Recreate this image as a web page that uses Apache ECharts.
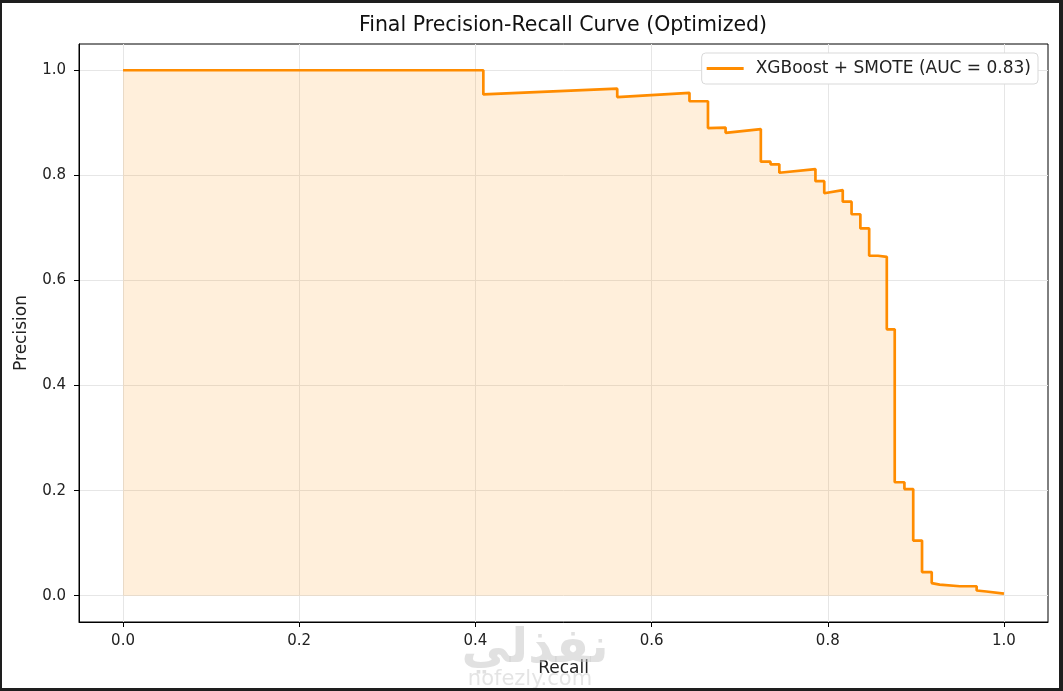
<!DOCTYPE html>
<html>
<head>
<meta charset="utf-8">
<script src="https://cdn.jsdelivr.net/npm/echarts@6/dist/echarts.min.js"></script>
<style>
html,body{margin:0;padding:0;background:#fff;}
#chart{width:1063px;height:691px;}
</style>
</head>
<body>
<div id="chart"></div>
<script>
// Data
const recall = [0, 0.409, 0.409, 0.561, 0.561, 0.643, 0.643, 0.664, 0.664, 0.684, 0.684, 0.724, 0.724, 0.735, 0.735, 0.745, 0.745, 0.786, 0.786, 0.796, 0.796, 0.817, 0.817, 0.827, 0.827, 0.837, 0.837, 0.847, 0.847, 0.857, 0.857, 0.867, 0.867, 0.876, 0.876, 0.887, 0.887, 0.897, 0.897, 0.907, 0.907, 0.918, 0.918, 0.927, 0.950, 0.969, 0.969, 0.980, 1.0];
const precision = [1.0, 1.0, 0.954, 0.965, 0.949, 0.957, 0.941, 0.941, 0.890, 0.891, 0.881, 0.888, 0.826, 0.826, 0.821, 0.821, 0.805, 0.812, 0.789, 0.789, 0.766, 0.772, 0.750, 0.750, 0.726, 0.726, 0.699, 0.699, 0.647, 0.647, 0.645, 0.645, 0.507, 0.507, 0.216, 0.216, 0.203, 0.203, 0.105, 0.105, 0.045, 0.045, 0.024, 0.021, 0.018, 0.018, 0.010, 0.008, 0.004];
const tickValues = [0, 0.2, 0.4, 0.6, 0.8, 1.0];
const seriesName = 'XGBoost + SMOTE (AUC = 0.83)';
const titleText = 'Final Precision-Recall Curve (Optimized)';

const points = recall.map((r, i) => [r, precision[i]]);
const FONT = '"DejaVu Sans", sans-serif';

const chart = echarts.init(document.getElementById('chart'), null, {renderer: 'canvas'});

function axisCommon() {
  return {
    type: 'value',
    min: -0.05,
    max: 1.05,
    axisLine: {show: true, onZero: false, lineStyle: {color: '#000', width: 1}},
    axisTick: {show: true, customValues: tickValues, length: 5, lineStyle: {color: '#000', width: 1}},
    axisLabel: {
      customValues: tickValues,
      formatter: v => Number(v).toFixed(1),
      color: '#222', fontSize: 15, fontFamily: FONT
    },
    splitLine: {show: true, lineStyle: {color: '#e6e6e6', width: 1}},
    nameTextStyle: {color: '#222', fontSize: 17, fontFamily: FONT}
  };
}

const xAxis = Object.assign(axisCommon(), {
  name: 'Recall', nameLocation: 'middle', nameGap: 38
});
xAxis.axisLabel.margin = 12;
const yAxis = Object.assign(axisCommon(), {
  name: 'Precision', nameLocation: 'middle', nameGap: 49
});
yAxis.axisLabel.margin = 13;

chart.setOption({
  animation: false,
  backgroundColor: '#fff',
  grid: {left: 79, right: 15, top: 44, bottom: 69, containLabel: false, outerBoundsMode: 'none', show: true, borderColor: '#000', borderWidth: 1, backgroundColor: 'transparent'},
  xAxis: xAxis,
  yAxis: yAxis,
  legend: {
    data: [{name: seriesName, icon: 'rect'}],
    right: 25, top: 53,
    itemWidth: 37, itemHeight: 3, itemGap: 10,
    padding: [7, 7, 7, 5],
    backgroundColor: '#fff', borderColor: '#d9d9d9', borderWidth: 1, borderRadius: 4,
    textStyle: {color: '#222', fontSize: 17, fontFamily: FONT, padding: [0, 0, 0, 7]}
  },
  series: [{
    name: seriesName,
    type: 'line',
    data: points,
    symbol: 'none',
    color: '#ff8c00',
    lineStyle: {color: '#ff8c00', width: 2.7},
    areaStyle: {color: 'rgba(255,140,0,0.2)', origin: 0}
  }],
  graphic: [
    {type: 'text', x: 563, y: 26, style: {text: titleText, fill: '#111', fontSize: 20.5, fontFamily: FONT, textAlign: 'center', textVerticalAlign: 'middle'}, z: 10},
    {type: 'text', x: 535, y: 650, style: {text: 'نفذلي', fill: 'rgba(200,200,200,0.55)', fontSize: 48, fontWeight: 'bold', fontFamily: FONT, textAlign: 'center', textVerticalAlign: 'middle'}, z: 20},
    {type: 'text', x: 530, y: 680, style: {text: 'nofezly.com', fill: 'rgba(210,210,210,0.6)', fontSize: 21, fontFamily: FONT, textAlign: 'center', textVerticalAlign: 'middle'}, z: 20},
    {type: 'rect', shape: {x: 0, y: 0, width: 1063, height: 3}, style: {fill: '#1e1e1e'}, z: 30},
    {type: 'rect', shape: {x: 0, y: 688, width: 1063, height: 3}, style: {fill: '#1e1e1e'}, z: 30},
    {type: 'rect', shape: {x: 0, y: 0, width: 2, height: 691}, style: {fill: '#1e1e1e'}, z: 30},
    {type: 'rect', shape: {x: 1059, y: 0, width: 4, height: 691}, style: {fill: '#1e1e1e'}, z: 30}
  ]
});
</script>
</body>
</html>
